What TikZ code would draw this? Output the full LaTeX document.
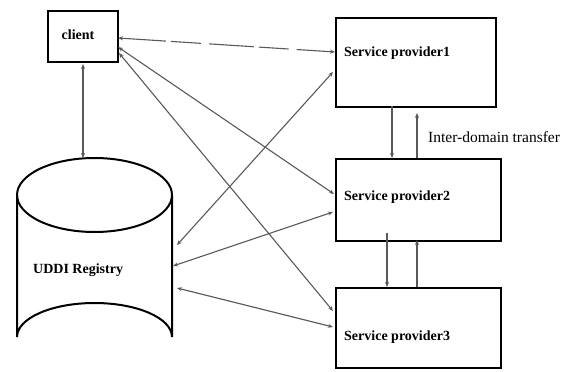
\documentclass[tikz,border=0pt]{standalone}
\usepackage{fontspec}
\setmainfont{Liberation Serif}
\usetikzlibrary{arrows.meta}
\tikzset{
  box/.style={draw=black, line width=2pt, inner sep=0pt, anchor=north west},
  lbl/.style={font=\bfseries\fontsize{14}{16}\selectfont, inner sep=0pt, anchor=west},
  conn/.style={draw=black!65, line width=1.1pt, {Stealth[length=5pt,width=4pt]}-{Stealth[length=5pt,width=4pt]}},
  oneway/.style={draw=black!65, line width=1.1pt, -{Stealth[length=5pt,width=4pt]}},
}
\begin{document}
\begin{tikzpicture}[x=1pt,y=-1pt]
\useasboundingbox (0,0) rectangle (571,372);
% boxes
\node[box, minimum width=70pt, minimum height=51pt] (client) at (47,10) {};
\node[box, minimum width=160pt, minimum height=89pt] (sp1) at (335,17) {};
\node[box, minimum width=165pt, minimum height=82pt] (sp2) at (335,158) {};
\node[box, minimum width=165pt, minimum height=80pt] (sp3) at (335,287) {};
% cylinder
\draw[line width=2pt] (17,195) arc[start angle=180, end angle=-180, x radius=77.5, y radius=37];
\draw[line width=2pt] (17,195) -- (17,337) arc[start angle=180, end angle=360, x radius=77.5, y radius=34] -- (172,195);
% texts
\node[lbl, anchor=center] (tclient) at (78,35) {client};
\node[lbl] (t1) at (344,53) {Service provider1};
\node[lbl] (t2) at (344,197) {Service provider2};
\node[lbl] (t3) at (344,337) {Service provider3};
\node[lbl] (tu) at (33,270) {UDDI Registry};
\node[font=\fontsize{15.5}{17}\selectfont, inner sep=0pt, anchor=west] (tid) at (428,137) {Inter-domain transfer};
% connector end points
\coordinate (cA) at (83,64);   \coordinate (uA) at (83,158);
\coordinate (c1) at (118,38);  \coordinate (p1a) at (335,52);
\coordinate (c2) at (118,47);  \coordinate (p2a) at (334,194);
\coordinate (c3) at (119,53);  \coordinate (p3a) at (333,311);
\coordinate (u1) at (177,245); \coordinate (p1b) at (333,72);
\coordinate (u2) at (173,266); \coordinate (p2b) at (333,212);
\coordinate (u3) at (177,288); \coordinate (p3b) at (333,327);
\coordinate (d1s) at (392,106); \coordinate (d1e) at (392,158);
\coordinate (u1s) at (417,158); \coordinate (u1e) at (417,113);
\coordinate (d2s) at (387,233); \coordinate (d2e) at (387,287);
\coordinate (u2s) at (417,287); \coordinate (u2e) at (417,240);
% connectors
\draw[conn] (cA) -- (uA);
\draw[conn, dash pattern=on 45pt off 5pt on 30pt off 8pt] (c1) -- (p1a);
\draw[conn] (c2) -- (p2a);
\draw[conn] (c3) -- (p3a);
\draw[conn] (u1) -- (p1b);
\draw[conn] (u2) -- (p2b);
\draw[conn] (u3) -- (p3b);
\draw[oneway] (d1s) -- (d1e);
\draw[oneway] (u1s) -- (u1e);
\draw[oneway] (d2s) -- (d2e);
\draw[oneway] (u2s) -- (u2e);
\end{tikzpicture}
\end{document}
